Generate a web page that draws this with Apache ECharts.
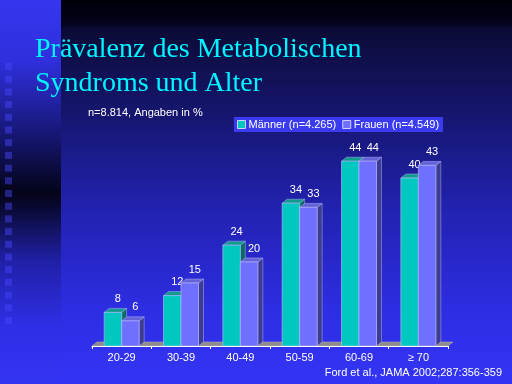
<!DOCTYPE html>
<html>
<head>
<meta charset="utf-8">
<script src="https://cdn.jsdelivr.net/npm/echarts@6/dist/echarts.min.js"></script>
<style>html,body{margin:0;padding:0;background:#000;}#c{width:512px;height:384px;}</style>
</head>
<body>
<div id="c"></div>
<script>
var categories = ['20-29', '30-39', '40-49', '50-59', '60-69', '\u2265 70'];
var maenner = [8, 12, 24, 34, 44, 40];
var frauen = [6, 15, 20, 33, 44, 43];
var seriesNames = ['M\u00e4nner (n=4.265)', 'Frauen (n=4.549)'];

var chart = echarts.init(document.getElementById('c'), null, {renderer: 'canvas'});

var DX = 5, DY = -4;
function barRenderer(side, c) {
  return function (params, api) {
    var idx = api.value(0), v = api.value(1);
    var base = api.coord([idx, 0]);
    var top = api.coord([idx, v]);
    var cw = api.size([1, 0])[0];
    var bw = cw * 0.295;
    var x0 = side === 0 ? base[0] - bw : base[0];
    var x1 = x0 + bw;
    var yb = base[1], yt = top[1];
    var edge = 'rgba(190,190,255,0.75)';
    return {
      type: 'group',
      children: [
        {type: 'polygon', shape: {points: [[x1, yt], [x1 + DX, yt + DY], [x1 + DX, yb + DY], [x1, yb]]},
         style: {fill: c.side, stroke: edge, lineWidth: 0.6}},
        {type: 'polygon', shape: {points: [[x0, yt], [x1, yt], [x1 + DX, yt + DY], [x0 + DX, yt + DY]]},
         style: {fill: c.top, stroke: edge, lineWidth: 0.6}},
        {type: 'rect', shape: {x: x0, y: yt, width: bw, height: yb - yt},
         style: {fill: c.front, stroke: edge, lineWidth: 0.8}},
        {type: 'text', style: {text: String(v), x: (x0 + x1) / 2 + DX, y: yt + DY - 4,
          align: 'center', verticalAlign: 'bottom', fill: '#ffffff', fontSize: 11,
          fontFamily: 'Liberation Sans'}}
      ]
    };
  };
}

function floorRenderer(params, api) {
  var cs = params.coordSys;
  var x0 = cs.x, x1 = cs.x + cs.width, y = cs.y + cs.height;
  return {
    type: 'polygon',
    shape: {points: [[x0, y], [x1, y], [x1 + DX, y + DY], [x0 + DX, y + DY]]},
    style: {fill: '#8c8c8c', stroke: '#b0b0b0', lineWidth: 0.5}
  };
}

var squares = [];
for (var k = 0; k < 21; k++) {
  squares.push({type: 'rect', shape: {x: 5, y: 63 + k * 12.7, width: 7, height: 7},
    style: {fill: 'rgba(70,70,255,0.45)'}, z: -9});
}

var option = {
  backgroundColor: '#000010',
  animation: false,
  graphic: [
    {type: 'rect', shape: {x: 0, y: 0, width: 512, height: 384}, z: -10,
     style: {fill: new echarts.graphic.LinearGradient(0, 0, 0, 1, [
       {offset: 0, color: '#00000a'},
       {offset: 0.06, color: '#03031a'},
       {offset: 0.075, color: '#0b0b36'},
       {offset: 0.3, color: '#161670'},
       {offset: 0.55, color: '#2222b2'},
       {offset: 0.8, color: '#2d2de2'},
       {offset: 1, color: '#3434f6'}
     ])}},
    {type: 'rect', shape: {x: 0, y: 0, width: 61, height: 384}, z: -10,
     style: {fill: new echarts.graphic.LinearGradient(0, 0, 0, 1, [
       {offset: 0, color: '#3636f0'},
       {offset: 0.16, color: '#2f2fdc'},
       {offset: 0.33, color: '#191980'},
       {offset: 0.5, color: '#04041a'},
       {offset: 0.53, color: '#08082a'},
       {offset: 0.68, color: '#2020a8'},
       {offset: 0.85, color: '#2f2fe6'},
       {offset: 1, color: '#3434f4'}
     ])}}
  ].concat(squares),
  title: [
    {text: 'Pr\u00e4valenz des Metabolischen\nSyndroms und Alter', left: 35, top: 33, padding: 0,
     textStyle: {color: '#00f4ff', fontFamily: 'Liberation Serif', fontWeight: 'normal', fontSize: 28, lineHeight: 34}},
    {text: 'n=8.814, Angaben in %', left: 88, top: 106, padding: 0,
     textStyle: {color: '#ffffff', fontFamily: 'Liberation Sans', fontWeight: 'normal', fontSize: 11, lineHeight: 13}},
    {text: 'Ford et al., JAMA 2002;287:356-359', right: 10, top: 366, padding: 0,
     textStyle: {color: '#ffffff', fontFamily: 'Liberation Sans', fontWeight: 'normal', fontSize: 11, lineHeight: 13}}
  ],
  legend: {
    left: 234, top: 117, padding: [2, 4, 2, 3], itemGap: 6,
    backgroundColor: '#3a3af0',
    itemWidth: 8, itemHeight: 8, icon: 'rect',
    itemStyle: {borderColor: '#d0d0ff', borderWidth: 1},
    textStyle: {color: '#ffffff', fontSize: 11, fontFamily: 'Liberation Sans', padding: [0, 0, 0, -2]},
    data: seriesNames
  },
  grid: {left: 92, right: 64, top: 136, bottom: 38},
  xAxis: {
    type: 'category', data: categories, z: 5,
    axisLine: {lineStyle: {color: '#ffffff', width: 1}},
    axisTick: {show: true, length: 3, lineStyle: {color: '#ffffff'}},
    axisLabel: {color: '#ffffff', fontSize: 11, fontFamily: 'Liberation Sans', margin: 6}
  },
  yAxis: {type: 'value', min: 0, max: 50, show: false, splitLine: {show: false}},
  series: [
    {type: 'custom', name: 'floor', z: 1, renderItem: floorRenderer, data: [[0, 0]], silent: true},
    {type: 'custom', name: seriesNames[0], z: 2, itemStyle: {color: '#00c8c0'},
     renderItem: barRenderer(0, {front: '#00c8c0', top: '#129a8e', side: '#0b6a62'}),
     data: maenner.map(function (v, i) { return [i, v]; })},
    {type: 'custom', name: seriesNames[1], z: 3, itemStyle: {color: '#7070ff'},
     renderItem: barRenderer(1, {front: '#7070ff', top: '#6464d8', side: '#3c3c90'}),
     data: frauen.map(function (v, i) { return [i, v]; })}
  ]
};
chart.setOption(option);
</script>
</body>
</html>
